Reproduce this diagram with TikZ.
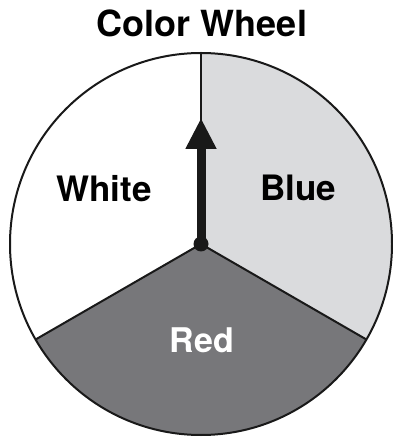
\documentclass[tikz,border=0pt]{standalone}
\usepackage{fontspec}
\setmainfont{TeX Gyre Heros}
\usepackage{xcolor}
\usetikzlibrary{arrows.meta,calc}

\definecolor{wheelblue}{RGB}{218,219,221}
\definecolor{wheelred}{RGB}{119,119,122}

\tikzset{
    rim/.style={line width=2pt, black!90},
    sectorlabel/.style={anchor=base, font=\fontsize{35}{40}\selectfont\bfseries, inner sep=0pt}
}

\begin{document}
\begin{tikzpicture}[x=1pt, y=1pt]
    \useasboundingbox (0,0) rectangle (393,439);

    % Hub and spoke ends
    \coordinate (hub) at (201,195);
    \coordinate (top) at ($(hub)+(90:191)$);
    \coordinate (left) at ($(hub)+(210:191)$);
    \coordinate (right) at ($(hub)+(330:191)$);
    \coordinate (tip) at (201,321);

    % Sectors
    \fill[wheelblue] (hub) -- (top) arc[start angle=90, end angle=-30, radius=191] -- cycle;
    \fill[wheelred] (hub) -- (left) arc[start angle=210, end angle=330, radius=191] -- cycle;

    % Rim and spokes
    \draw[rim] (hub) circle[radius=191];
    \foreach \p in {top, left, right} {
        \draw[rim] (hub) -- (\p);
    }

    % Labels
    \node[sectorlabel, font=\fontsize{36}{40}\selectfont\bfseries] (title) at (202,402) {Color Wheel};
    \node[sectorlabel] (white) at (104,237) {White};
    \node[sectorlabel] (blue) at (298,238) {Blue};
    \node[sectorlabel, white, font=\fontsize{34}{40}\selectfont\bfseries] (red) at (202,86) {Red};

    % Pointer
    \draw[line width=9pt, black!90, -{Triangle[length=31pt 0 0, width=29pt 0 0]}] (hub) -- (tip);
    \fill[black!90] (hub) circle[radius=7.5];
\end{tikzpicture}
\end{document}
